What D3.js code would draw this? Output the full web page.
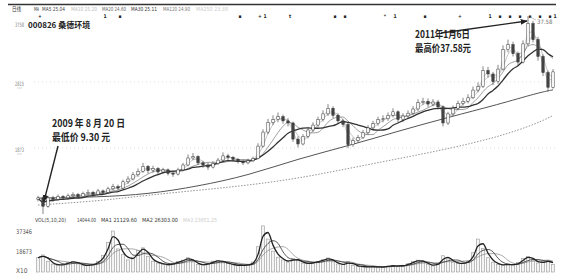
<!DOCTYPE html>
<html>
<head>
<meta charset="utf-8">
<script src="https://cdn.jsdelivr.net/npm/d3@7"></script>
<style>body{margin:0;background:#fff}</style>
</head>
<body>
<script>
// daily candles (compressed)
const firstOpen = 11.4;
const closes = [11.6,10.4,11.6,11.4,11.8,11.6,11.9,12.1,11.8,12.2, 12.4,12.1,12.6,12.4,12.9,13.2,13.0,13.9,14.3,14.9,
  15.4,16.1,15.5,15.8,15.3,15.6,15.1,15.0,15.6,16.3, 17.3,17.5,16.6,16.3,16.0,16.5,17.0,17.6,17.4,17.1,
  16.8,16.6,16.9,17.2,19.0,21.0,22.4,22.8,23.2,22.6, 22.3,20.0,19.3,20.4,21.3,22.0,22.8,23.6,24.4,23.4,
  22.6,22.1,19.2,19.8,20.2,20.9,21.6,22.2,22.8,22.9, 23.4,23.9,22.8,23.3,23.7,24.3,25.2,25.4,25.0,25.3,
  24.6,22.3,23.6,24.4,25.1,25.4,25.9,27.0,27.5,29.8, 29.3,28.2,30.0,32.8,33.5,32.2,31.0,33.6,36.5,34.2,
  31.8,29.5,27.4,29.6];
const highs = [11.9,11.8,11.9,11.9,12.1,12.0,12.2,12.4,12.3,12.5, 12.8,12.6,12.9,12.8,13.2,13.6,13.5,14.2,14.7,15.3,
  15.8,16.6,16.3,16.2,16.0,15.9,15.8,15.4,15.9,16.6, 17.8,18.0,17.7,16.9,16.6,16.8,17.3,18.1,17.9,17.6,
  17.3,17.0,17.2,17.5,19.4,21.4,22.9,23.4,23.8,23.5, 23.0,22.5,20.4,20.7,21.7,22.4,23.2,24.1,25.0,24.7,
  23.7,22.9,22.3,20.2,20.6,21.3,22.0,22.6,23.2,23.4, 23.8,24.4,24.1,23.7,24.1,24.7,25.7,25.9,25.8,25.7,
  25.6,24.8,23.9,24.8,25.5,25.9,26.4,27.5,28.1,30.4, 30.3,29.6,30.6,33.4,34.2,33.9,32.5,34.1,37.58,36.9,
  34.6,32.1,29.8,30.0];
const lows = [11.1,9.30,10.2,11.1,11.2,11.3,11.4,11.7,11.5,11.6, 12.0,11.8,11.9,12.1,12.2,12.7,12.7,12.9,13.6,14.1,
  14.6,15.2,15.1,15.2,15.0,15.0,14.8,14.6,14.8,15.4, 16.1,17.0,16.3,15.9,15.6,15.8,16.3,16.8,17.0,16.8,
  16.5,16.3,16.4,16.7,17.1,18.8,20.7,22.0,22.4,22.2, 21.8,19.6,18.8,19.1,20.1,21.0,21.7,22.5,23.3,23.0,
  22.2,21.7,18.7,18.9,19.5,20.0,20.6,21.3,21.9,22.4, 22.6,23.1,22.4,22.5,23.0,23.5,24.0,24.9,24.6,24.7,
  24.2,21.8,22.0,23.3,24.1,24.8,25.1,25.7,26.7,27.3, 28.8,27.7,27.9,29.8,32.4,31.8,30.5,30.8,33.3,33.8,
  31.2,29.0,26.8,27.2];
const volumes = [13000,15500,9800,7200,6100,6800,8900,9600,7400,6200, 5900,7000,9800,15000,27000,37300,21000,16000,11000,13500,
  19800,22000,14000,9800,8200,7100,6300,8000,9600,10800, 13000,9200,6900,6400,7800,9900,10400,9000,7600,6500,
  5800,6200,6700,9100,23000,42000,30000,19000,13500,11000, 9000,12500,10200,8100,7800,8600,9800,11200,12800,9200,
  7300,6600,9500,6100,5200,4800,4600,5000,4300,4700, 5400,6000,5200,6200,7500,9600,10800,9200,6800,5600,
  8100,14800,12000,9000,7600,8000,9900,17500,30000,21500, 13000,8900,6800,6300,7200,6400,8500,12500,14000,10800,
  8200,9400,10200,7000];

// long averages read at a few candles
const longIdx = [0, 12, 22, 32, 42, 52, 62, 72, 82, 92, 100, 103];
const ma120 = [11.57, 11.71, 12.13, 13.26, 14.80, 17.19, 19.02, 21.13, 23.10, 24.93, 26.61, 27.03];
const ma250 = [10.58, 11.15, 11.99, 12.69, 13.40, 14.38, 15.79, 17.19, 18.60, 20.29, 22.26, 23.38];

const priceTicks = [37.58, 28.15, 18.73];
const volTicks = [37346, 18673];

// information-mine markers along the top
const markerIdx = [0, 13, 16, 40, 44, 45, 50, 59, 61, 69, 71, 77, 84, 90, 92, 94, 96, 98, 100, 102, 103];
const markerGlyph = ["+", "1", "▪", "▪", "+", "1", "t", "▪", "▪", "*", "1", "▪", "+", "1", "▪", "▪", "▪", "▪", "▪", "▪", "1"];

const width = 566, height = 280;
const narrow = "'Liberation Sans Narrow','DejaVu Sans Condensed','Liberation Sans',sans-serif";
const cjk = "'Noto Sans CJK SC',sans-serif";

const x = d3.scaleLinear().domain([0, closes.length - 1]).range([38, 553]);
const y = d3.scaleLinear().domain([9.30, 37.58]).range([214, 16]);
const yv = d3.scaleLinear().domain([0, 37346]).range([272, 231]);

const bars = closes.map((c, i) => ({i, o: i ? closes[i - 1] : firstOpen, c, h: highs[i], l: lows[i], v: volumes[i]}));

function movingAvg(values, n) {
  return values.map((_, i) => d3.mean(values.slice(Math.max(0, i - n + 1), i + 1)));
}

const svg = d3.select("body").append("svg")
    .attr("width", width)
    .attr("height", height)
    .attr("font-family", narrow);

svg.append("rect").attr("width", width).attr("height", height).attr("fill", "#fff");

// top rule
svg.append("line")
    .attr("x1", 8).attr("x2", 556).attr("y1", 4.5).attr("y2", 4.5)
    .attr("stroke", "#333").attr("stroke-width", 1.6);

// header
const header = [
  {t: "日线", x: 12, w: 9, c: "#333"},
  {t: "MA", x: 34, w: 5, c: "#333"},
  {t: "MA5 25.04", x: 42, w: 23, c: "#444"},
  {t: "MA10 25.20", x: 71, w: 26, c: "#bbb"},
  {t: "MA20 24.60", x: 102, w: 24, c: "#666"},
  {t: "MA30 25.11", x: 131, w: 26, c: "#333"},
  {t: "MA120 24.90", x: 163, w: 27, c: "#777"},
  {t: "MA250 23.38", x: 196, w: 32, c: "#ccc"}
];
svg.append("g")
    .attr("font-size", 5.6)
  .selectAll("text")
  .data(header)
  .join("text")
    .attr("x", d => d.x)
    .attr("y", 11)
    .attr("fill", d => d.c)
    .attr("textLength", d => d.w)
    .attr("lengthAdjust", "spacingAndGlyphs")
    .attr("font-family", d => d.t === "日线" ? cjk : narrow)
    .text(d => d.t);

// markers
svg.append("g")
    .attr("font-size", 5)
    .attr("font-weight", "bold")
    .attr("fill", "#222")
    .attr("text-anchor", "middle")
  .selectAll("text")
  .data(markerIdx)
  .join("text")
    .attr("x", d => x(d) + 2)
    .attr("y", 17.5)
    .text((d, i) => markerGlyph[i]);

// grid + price labels
svg.append("g")
    .attr("stroke", "#ddd")
    .attr("stroke-dasharray", "1,3")
  .selectAll("line")
  .data(priceTicks.slice(1))
  .join("line")
    .attr("x1", 34).attr("x2", 556)
    .attr("y1", d => y(d)).attr("y2", d => y(d));

const tickG = svg.append("g")
    .attr("font-size", 6)
    .attr("fill", "#888");
tickG.selectAll("text")
  .data(priceTicks)
  .join("text")
    .attr("x", 15)
    .attr("y", d => Math.max(y(d) + 4, 27))
    .attr("textLength", 9)
    .attr("lengthAdjust", "spacingAndGlyphs")
    .text(d => d3.format(".2f")(d).replace(".", ""));
tickG.selectAll("line")
  .data(priceTicks.slice(1))
  .join("line")
    .attr("x1", 17).attr("x2", 22)
    .attr("y1", d => y(d) + 6).attr("y2", d => y(d) + 6)
    .attr("stroke", "#bbb").attr("stroke-width", 0.6);

// title
svg.append("text")
    .attr("x", 28).attr("y", 28)
    .attr("font-size", 8).attr("font-weight", "bold")
    .attr("fill", "#222")
    .attr("font-family", cjk)
    .text("000826 桑德环境");

// long averages
const longLine = d3.line()
    .x((d, i) => x(longIdx[i]))
    .y(d => y(d))
    .curve(d3.curveBasis);
svg.append("path")
    .attr("d", longLine(ma250))
    .attr("fill", "none").attr("stroke", "#888")
    .attr("stroke-width", 0.9).attr("stroke-dasharray", "1.5,1.5");
svg.append("path")
    .attr("d", longLine(ma120))
    .attr("fill", "none").attr("stroke", "#555").attr("stroke-width", 1);

// short averages from closes
const maLine = d3.line().x((d, i) => x(i)).y(d => y(d)).curve(d3.curveMonotoneX);
const maStyles = [
  {n: 2, c: "#aaa", w: 0.6},
  {n: 3, c: "#999", w: 0.6},
  {n: 6, c: "#777", w: 0.7},
  {n: 9, c: "#333", w: 1.3}
];
svg.append("g")
    .attr("fill", "none")
  .selectAll("path")
  .data(maStyles)
  .join("path")
    .attr("d", d => maLine(movingAvg(closes, d.n)))
    .attr("stroke", d => d.c)
    .attr("stroke-width", d => d.w);

// candles
const candle = svg.append("g")
  .selectAll("g")
  .data(bars)
  .join("g");
candle.append("line")
    .attr("x1", d => x(d.i)).attr("x2", d => x(d.i))
    .attr("y1", d => y(d.h)).attr("y2", d => y(d.l))
    .attr("stroke", "#333").attr("stroke-width", 0.6);
candle.append("rect")
    .attr("x", d => x(d.i) - 1.2)
    .attr("width", 2.4)
    .attr("y", d => y(Math.max(d.o, d.c)))
    .attr("height", d => Math.max(0.8, Math.abs(y(d.o) - y(d.c))))
    .attr("fill", d => d.c >= d.o ? "#fff" : "#444")
    .attr("stroke", "#333").attr("stroke-width", 0.5);

// high label
const hiIdx = d3.maxIndex(highs);
svg.append("line")
    .attr("x1", x(hiIdx) + 2).attr("y1", y(highs[hiIdx]) + 1)
    .attr("x2", x(hiIdx) + 8).attr("y2", y(highs[hiIdx]) + 4)
    .attr("stroke", "#999").attr("stroke-width", 0.6);
svg.append("text")
    .attr("x", x(hiIdx) + 9).attr("y", y(highs[hiIdx]) + 8)
    .attr("font-size", 6).attr("fill", "#777")
    .text(d3.format(".2f")(highs[hiIdx]));

// annotations
svg.append("defs").append("marker")
    .attr("id", "arrow")
    .attr("viewBox", "0 0 10 10")
    .attr("refX", 9).attr("refY", 5)
    .attr("markerWidth", 5).attr("markerHeight", 5)
    .attr("orient", "auto")
  .append("path")
    .attr("d", "M0,1L10,5L0,9z")
    .attr("fill", "#222");

const loIdx = d3.minIndex(lows);
svg.append("line")
    .attr("x1", 58).attr("y1", 146)
    .attr("x2", x(loIdx) + 1).attr("y2", y(closes[loIdx]) - 5)
    .attr("stroke", "#222").attr("stroke-width", 1.4)
    .attr("marker-end", "url(#arrow)");
svg.append("line")
    .attr("x1", 441).attr("y1", 33)
    .attr("x2", x(hiIdx) - 1).attr("y2", y(highs[hiIdx]) + 5)
    .attr("stroke", "#222").attr("stroke-width", 1.4)
    .attr("marker-end", "url(#arrow)");

const notes = [
  {t: "2009 年 8 月 20 日", x: 52, y: 127, w: 73},
  {t: "最低价 9.30 元", x: 52, y: 141, w: 58},
  {t: "2011年1月6日", x: 415, y: 38, w: 55},
  {t: "最高价37.58元", x: 415, y: 52, w: 56}
];
svg.append("g")
    .attr("font-family", cjk)
    .attr("font-weight", "bold")
    .attr("font-size", 10)
    .attr("fill", "#222")
  .selectAll("text")
  .data(notes)
  .join("text")
    .attr("x", d => d.x).attr("y", d => d.y)
    .attr("textLength", d => d.w)
    .attr("lengthAdjust", "spacingAndGlyphs")
    .text(d => d.t);

// volume panel
const volHeader = [
  {t: "VOL(5,10,20)", x: 35, w: 31, c: "#444"},
  {t: "14044.00", x: 77, w: 19, c: "#444"},
  {t: "MA1 21129.60", x: 101, w: 36, c: "#333"},
  {t: "MA2 26303.00", x: 142, w: 36, c: "#333"},
  {t: "MA3 23651.25", x: 183, w: 34, c: "#ccc"}
];
svg.append("g")
    .attr("font-size", 5.6)
  .selectAll("text")
  .data(volHeader)
  .join("text")
    .attr("x", d => d.x).attr("y", 222)
    .attr("fill", d => d.c)
    .attr("textLength", d => d.w)
    .attr("lengthAdjust", "spacingAndGlyphs")
    .text(d => d.t);

svg.append("g")
    .attr("fill", "#f4f4f4")
    .attr("stroke", "#999")
    .attr("stroke-width", 0.6)
  .selectAll("rect")
  .data(bars)
  .join("rect")
    .attr("x", d => x(d.i) - 1.6)
    .attr("width", 3.2)
    .attr("y", d => yv(d.v))
    .attr("height", d => yv(0) - yv(d.v));

const volLine = d3.line().x((d, i) => x(i)).y(d => yv(d)).curve(d3.curveMonotoneX);
const volMa = [
  {n: 6, c: "#888", w: 0.7},
  {n: 4, c: "#444", w: 0.9},
  {n: 2, c: "#222", w: 1.3}
];
svg.append("g")
    .attr("fill", "none")
  .selectAll("path")
  .data(volMa)
  .join("path")
    .attr("d", d => volLine(movingAvg(volumes, d.n)))
    .attr("stroke", d => d.c)
    .attr("stroke-width", d => d.w);

svg.append("g")
    .attr("font-size", 6.5)
    .attr("fill", "#555")
  .selectAll("text")
  .data(volTicks)
  .join("text")
    .attr("x", 16).attr("y", d => yv(d) + 2.5)
    .attr("textLength", 16)
    .attr("lengthAdjust", "spacingAndGlyphs")
    .text(d => d);
svg.append("text")
    .attr("x", 16).attr("y", 273)
    .attr("font-size", 6.5).attr("fill", "#555")
    .text("X10");
</script>
</body>
</html>
